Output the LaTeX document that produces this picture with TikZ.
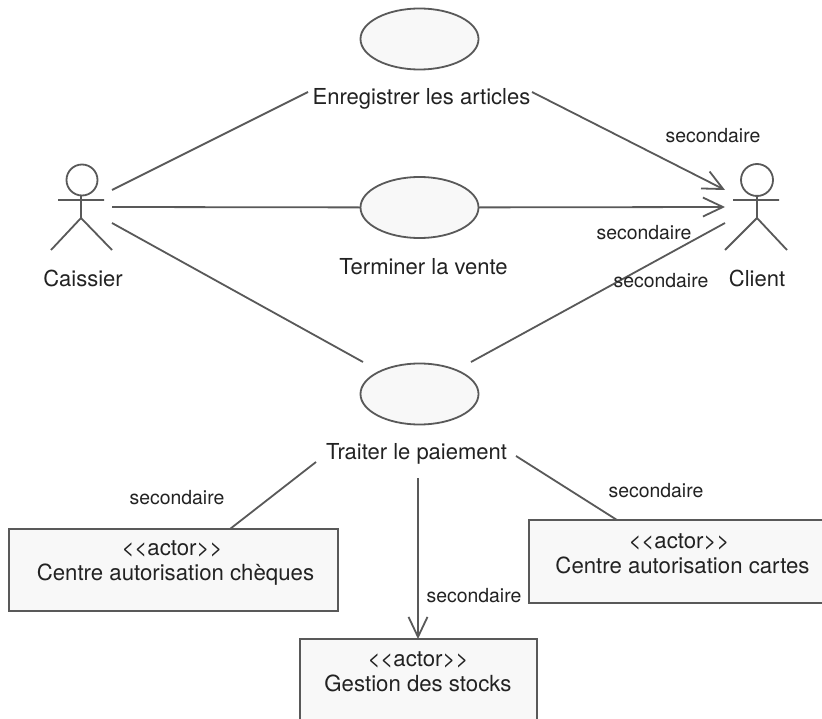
\documentclass[tikz,border=0pt]{standalone}
\usepackage{fontspec}
\setmainfont{TeX Gyre Heros}
\usetikzlibrary{arrows.meta,shapes.geometric}
\definecolor{umlline}{HTML}{595959}
\definecolor{umlfill}{HTML}{F8F8F8}
\definecolor{umltext}{HTML}{222222}
\tikzset{
  usecase/.style={draw=umlline,line width=1.8pt,fill=umlfill,ellipse,minimum width=118pt,minimum height=61pt,inner sep=0pt,outer sep=0pt},
  actorbox/.style={draw=umlline,line width=1.8pt,fill=umlfill,anchor=north west,inner sep=0pt,outer sep=0pt},
  lbl/.style={text=umltext,font=\fontsize{22}{25}\selectfont,inner sep=0pt},
  role/.style={text=umltext,font=\fontsize{19.4}{22}\selectfont,inner sep=0pt},
  stereo/.style={text=umltext,font=\fontsize{22.2}{25}\selectfont,inner sep=0pt,align=center},
  link/.style={draw=umlline,line width=1.8pt},
  nav/.style={link,-{Straight Barb[length=20pt,width=19pt,line width=1.8pt]}},
}
\begin{document}
\begin{tikzpicture}[x=1pt,y=-1pt]
  \useasboundingbox (0,0) rectangle (822,719);
  \fill[white] (0,0) rectangle (822,719);
  % use cases
  \node[usecase] (enreg) at (419.5,39) {};
  \node[usecase] (term) at (419.5,207.5) {};
  \node[usecase] (trait) at (419.5,394) {};
  \node[lbl] (enregt) at (421.5,99) {Enregistrer les articles};
  \node[lbl] (termt) at (423.5,266.5) {Terminer la vente};
  \node[lbl] (traitt) at (416.5,454) {Traiter le paiement};
  % actors
  \draw[link]
    (82,180) circle (15.5)
    (58,200) -- (104,200)
    (81,195) -- (81,218) -- (51,250)
    (81,218) -- (112,250);
  \node[lbl] (caissier) at (83,278.5) {Caissier};
  \draw[link]
    (757,180) circle (16)
    (733,200) -- (779,200)
    (757,195) -- (757,218) -- (725,250)
    (757,218) -- (787,250);
  \node[lbl] (client) at (757,278.5) {Client};
  % boxes
  \node[actorbox,minimum width=329pt,minimum height=82pt] (cheques) at (9,529) {};
  \node[actorbox,minimum width=296pt,minimum height=83pt] (cartes) at (529,520) {};
  \node[actorbox,minimum width=237pt,minimum height=90pt] (stocks) at (300,639) {};
  \node[stereo] (chequest) at (175.5,563.5) {<{}<actor>{}>\hspace*{7pt}\\Centre autorisation chèques};
  \node[stereo] (cartest) at (682.5,554) {<{}<actor>{}>\hspace*{7pt}\\Centre autorisation cartes};
  \node[stereo] (stockst) at (418,672) {<{}<actor>{}>\\Gestion des stocks};
  % free ends
  \coordinate (ca) at (112,190);
  \coordinate (cb) at (112,207);
  \coordinate (cc) at (112,223);
  \coordinate (ea) at (308,92);
  \coordinate (eb) at (532,92);
  \coordinate (da) at (725,190);
  \coordinate (db) at (725,207);
  \coordinate (dc) at (725,223);
  \coordinate (ta) at (363,362);
  \coordinate (tb) at (471,362);
  \coordinate (pa) at (316,462);
  \coordinate (pb) at (418,478);
  \coordinate (pc) at (516,456);
  \coordinate (qa) at (230,529);
  \coordinate (qb) at (418,639);
  \coordinate (qc) at (617,520);
  % links
  \begin{scope}[link]
    \draw (ca) to (ea);
    \draw (cb) to (term);
    \draw (cc) to (ta);
    \draw (tb) to (dc);
    \draw (pa) to (qa);
    \draw (pc) to (qc);
  \end{scope}
  \begin{scope}[nav]
    \draw (eb) to (da);
    \draw (term) to (db);
    \draw (pb) to (qb);
  \end{scope}
  % roles
  \node[role] (r1) at (713,135.5) {secondaire};
  \node[role] (r2) at (644,232.5) {secondaire};
  \node[role] (r3) at (661,280.5) {secondaire};
  \node[role] (r4) at (177,497.5) {secondaire};
  \node[role] (r5) at (656,490.5) {secondaire};
  \node[role] (r6) at (474,595.5) {secondaire};
\end{tikzpicture}
\end{document}
